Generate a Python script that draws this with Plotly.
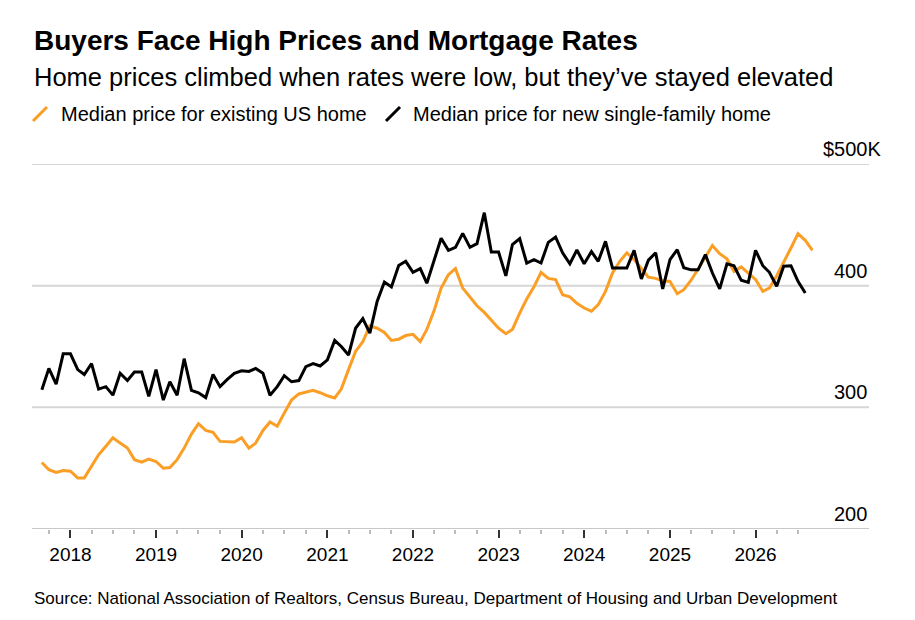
import plotly.graph_objects as go
import pandas as pd

# monthly medians, $K, starting Sep 2017
start_month = "2017-09-01"

existing_price = [
    254.7, 248.7, 246.5, 248.0, 247.5, 242.0, 242.0, 251.5, 261.0, 268.0,
    275.0, 270.6, 266.5, 257.0, 255.0, 257.5, 255.5, 250.0, 250.5, 257.0,
    266.5, 278.0, 286.5, 281.0, 279.4, 272.0, 271.5, 271.5, 275.0, 266.5,
    270.6, 281.0, 288.0, 284.5, 295.3, 306.0, 311.0, 312.5, 314.0, 312.0,
    309.5, 307.7, 315.0, 331.0, 346.0, 354.0, 367.0, 365.0, 361.6, 355.0,
    356.0, 359.0, 360.0, 354.0, 364.0, 379.5, 398.0, 409.0, 414.0, 398.0,
    391.0, 383.5, 378.0, 371.5, 365.0, 360.5, 364.0, 377.5, 389.0, 399.0,
    411.0, 406.0, 405.0, 392.6, 390.8, 385.5, 381.6, 379.0, 384.4, 395.3,
    410.4, 420.0, 427.0, 421.4, 413.7, 407.0, 406.0, 404.0, 403.5, 393.4,
    396.7, 404.5, 413.7, 423.6, 433.0, 426.3, 422.0, 411.8, 415.4, 410.4,
    405.0, 395.3, 398.0, 408.0, 419.0, 431.0, 442.8, 437.3, 429.0,
]

new_price = [
    314.5, 332.0, 319.0, 344.0, 344.0, 331.0, 327.0, 336.0, 315.0, 317.0,
    310.0, 328.0, 322.0, 329.0, 329.0, 309.0, 331.0, 306.0, 321.0, 310.0,
    340.0, 314.0, 312.0, 308.0, 327.0, 317.0, 323.0, 328.0, 330.0, 329.5,
    332.0, 328.0, 310.0, 317.0, 326.0, 321.0, 322.0, 333.5, 336.0, 334.0,
    339.0, 355.0, 350.0, 343.0, 365.0, 373.0, 361.0, 387.0, 403.0, 399.0,
    416.5, 420.0, 411.0, 414.0, 402.0, 421.5, 439.0, 429.0, 431.5, 443.0,
    431.5, 434.5, 460.0, 427.7, 427.7, 408.0, 433.7, 438.6, 418.6, 421.4,
    418.6, 435.6, 440.0, 427.0, 418.0, 429.3, 418.0, 428.0, 420.0, 436.4,
    414.5, 414.5, 414.5, 429.0, 405.5, 421.0, 427.0, 397.3, 421.4, 429.6,
    414.7, 413.0, 413.0, 425.5, 410.4, 397.3, 418.0, 416.4, 404.4, 402.7,
    429.0, 416.4, 411.0, 399.5, 416.0, 416.4, 403.5, 394.0,
]

y_ticks = [200, 300, 400, 500]
y_tick_text = ["200", "300", "400", "$500K"]

series_names = ["Median price for existing US home", "Median price for new single-family home"]

ORANGE = "#fb9e25"
BLACK = "#000000"
GRID = "#d6d6d6"
AXIS = "#c8c8c8"
FONT = "Liberation Sans, Arial, sans-serif"

existing_dates = pd.date_range(start_month, periods=len(existing_price), freq="MS")
new_dates = pd.date_range(start_month, periods=len(new_price), freq="MS")

# figure layout in pixels
W, H = 915, 620
L, R, T, B = 24, 110, 156, 99
PH = H - T - B
PW = W - L - R
GRID_END = 861  # gridlines run past the data into the label column


def px_x(x):
    return (x - L) / PW


def px_y(y):
    return (H - B - y) / PH


fig = go.Figure()
fig.add_trace(go.Scatter(x=existing_dates, y=existing_price, mode="lines",
                         line=dict(color=ORANGE, width=3), name=series_names[0]))
fig.add_trace(go.Scatter(x=new_dates, y=new_price, mode="lines",
                         line=dict(color=BLACK, width=3), name=series_names[1]))

annotations = [
    dict(text="<b>Buyers Face High Prices and Mortgage Rates</b>", x=0, y=px_y(32),
         font=dict(size=28, color="#000")),
    dict(text="Home prices climbed when rates were low, but they\u2019ve stayed elevated",
         x=0, y=px_y(69), font=dict(size=25.5, color="#000")),
    dict(text=series_names[0], x=px_x(51), y=px_y(106), font=dict(size=20, color="#000")),
    dict(text=series_names[1], x=px_x(403), y=px_y(106), font=dict(size=20, color="#000")),
    dict(text="Source: National Association of Realtors, Census Bureau, Department of Housing and Urban Development",
         x=0, y=px_y(590), font=dict(size=17, color="#000")),
]
for a in annotations:
    a.update(xref="paper", yref="paper", xanchor="left", yanchor="middle", showarrow=False)

for v, t in zip(y_ticks, y_tick_text):
    annotations.append(dict(text=t, xref="paper", yref="y", x=px_x(GRID_END), y=v, xanchor="right",
                            yanchor="bottom", yshift=2, xshift=14 if t.endswith("K") else 0,
                            showarrow=False, font=dict(size=20, color="#000")))

shapes = []
for x0, c in [(25, ORANGE), (378, BLACK)]:
    shapes.append(dict(type="line", xref="paper", yref="paper",
                       x0=px_x(x0), y0=px_y(113), x1=px_x(x0 + 14), y1=px_y(99),
                       line=dict(color=c, width=3)))
for v in y_ticks:
    shapes.append(dict(type="line", xref="paper", yref="y", layer="below",
                       x0=0, x1=px_x(GRID_END), y0=v, y1=v,
                       line=dict(color=AXIS if v == y_ticks[0] else GRID, width=2)))

fig.update_layout(
    width=W, height=H,
    margin=dict(l=L, r=R, t=T, b=B),
    paper_bgcolor="white", plot_bgcolor="white",
    font=dict(family=FONT, color="#000"),
    showlegend=False,
    annotations=annotations,
    shapes=shapes,
)
fig.update_xaxes(
    range=["2017-07-21", "2026-09-03"],
    tickformat="%Y", dtick="M12", tick0="2018-01-01",
    ticks="outside", ticklen=8, tickwidth=1.5, tickcolor="#333",
    tickfont=dict(size=19, color="#000"),
    showline=False, showgrid=False, zeroline=False,
    minor=dict(dtick="M3", tick0="2018-01-01", ticks="outside", ticklen=4,
               tickcolor="#bbbbbb", tickwidth=1.5),
)
fig.update_yaxes(
    range=[200, 500], showticklabels=False,
    showgrid=False, zeroline=False,
)

fig.write_html("out.html")
